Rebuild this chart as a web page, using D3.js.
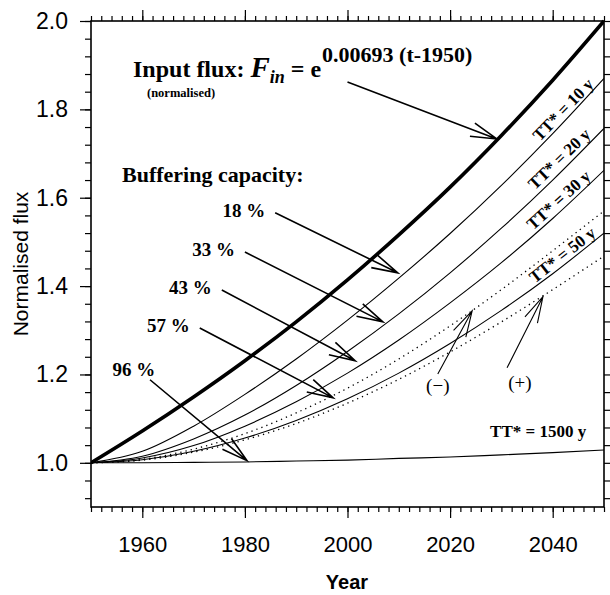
<!DOCTYPE html>
<html>
<head>
<meta charset="utf-8">
<script src="https://cdn.jsdelivr.net/npm/d3@7"></script>
<style>
  body { margin: 0; background: #fff; }
</style>
</head>
<body>
<div id="chart"></div>
<script>
// values, one per decade
const years = [1950, 1960, 1970, 1980, 1990, 2000, 2010, 2020, 2030, 2040, 2050]
const inputFlux = [1.000, 1.072, 1.149, 1.231, 1.319, 1.414, 1.516, 1.624, 1.741, 1.866, 2.000]
const tt10 = [1.000, 1.026, 1.083, 1.155, 1.235, 1.323, 1.418, 1.519, 1.628, 1.745, 1.870]
const tt20 = [1.000, 1.015, 1.054, 1.108, 1.175, 1.252, 1.337, 1.430, 1.531, 1.640, 1.757]
const tt30 = [1.000, 1.011, 1.039, 1.083, 1.138, 1.203, 1.278, 1.362, 1.453, 1.553, 1.662]
const tt50 = [1.000, 1.007, 1.026, 1.056, 1.096, 1.145, 1.203, 1.270, 1.345, 1.428, 1.520]
const tt50Minus = [1.000, 1.008, 1.031, 1.066, 1.113, 1.169, 1.235, 1.310, 1.392, 1.480, 1.570]
const tt50Plus = [1.000, 1.006, 1.024, 1.052, 1.089, 1.135, 1.189, 1.251, 1.319, 1.392, 1.468]
const tt1500 = [1.000, 1.000, 1.001, 1.002, 1.004, 1.006, 1.010, 1.013, 1.018, 1.023, 1.029]

const yTickLabels = [1.0, 1.2, 1.4, 1.6, 1.8, 2.0]
const xTickLabels = [1960, 1980, 2000, 2020, 2040]

let width = 610
let height = 595

let svg = d3.select("#chart")
  .append("svg")
  .attr("width", width)
  .attr("height", height)

let x = d3.scaleLinear()
  .domain([1950, 2050])
  .range([91, 604])

let y = d3.scaleLinear()
  .domain([0.9, 2.0])
  .range([507, 21])

let serif = "'Liberation Serif', 'Times New Roman', serif"
let sans = "'Liberation Sans', Arial, sans-serif"

// ---- axes ----
let yMinor = d3.range(23, 51).map(i => +(i * 0.04).toFixed(2))
let xMinor = d3.range(1950, 2051, 2)

let styleAxis = g => g
  .call(g => g.select(".domain").remove())
  .call(g => g.selectAll("line").attr("stroke", "#000").attr("stroke-width", 1.2))

svg.append("g")
  .attr("transform", `translate(${x(1950)},0)`)
  .call(d3.axisLeft(y).tickValues(yMinor).tickSize(6).tickFormat(""))
  .call(styleAxis)

svg.append("g")
  .attr("transform", `translate(${x(1950)},0)`)
  .call(d3.axisLeft(y).tickValues(yTickLabels).tickSize(11).tickPadding(12).tickFormat(d3.format(".1f")))
  .call(styleAxis)
  .call(g => g.selectAll("text").style("font", `23px ${sans}`).attr("fill", "#000"))

svg.append("g")
  .attr("transform", `translate(${x(2050)},0)`)
  .call(d3.axisRight(y).tickValues(yMinor).tickSize(6).tickFormat(""))
  .call(styleAxis)

svg.append("g")
  .attr("transform", `translate(0,${y(0.9)})`)
  .call(d3.axisBottom(x).tickValues(xMinor).tickSize(5).tickFormat(""))
  .call(styleAxis)

svg.append("g")
  .attr("transform", `translate(0,${y(0.9)})`)
  .call(d3.axisBottom(x).tickValues(xTickLabels).tickSize(11).tickPadding(18).tickFormat(d3.format("d")))
  .call(styleAxis)
  .call(g => g.selectAll("text").style("font", `22px ${sans}`).attr("fill", "#000"))

svg.append("g")
  .attr("transform", `translate(0,${y(2.0)})`)
  .call(d3.axisTop(x).tickValues(xMinor).tickSize(5).tickFormat(""))
  .call(styleAxis)

svg.append("g")
  .attr("transform", `translate(0,${y(2.0)})`)
  .call(d3.axisTop(x).tickValues(xTickLabels).tickSize(11).tickFormat(""))
  .call(styleAxis)

svg.append("rect")
  .attr("x", x(1950))
  .attr("y", y(2.0))
  .attr("width", x(2050) - x(1950))
  .attr("height", y(0.9) - y(2.0))
  .attr("fill", "none")
  .attr("stroke", "#000")
  .attr("stroke-width", 1.6)

svg.append("text")
  .attr("transform", `translate(28,${(y(0.9) + y(2.0)) / 2}) rotate(-90)`)
  .attr("text-anchor", "middle")
  .style("font", `21px ${sans}`)
  .text("Normalised flux")

svg.append("text")
  .attr("x", 347)
  .attr("y", 589)
  .attr("text-anchor", "middle")
  .style("font", `bold 20px ${sans}`)
  .text("Year")

// ---- curves ----
svg.append("clipPath").attr("id", "plot")
  .append("rect")
  .attr("x", x(1950)).attr("y", y(2.0) - 2)
  .attr("width", x(2050) - x(1950)).attr("height", y(0.9) - y(2.0) + 2)

let line = d3.line()
  .x((d, i) => x(years[i]))
  .y(d => y(d))
  .curve(d3.curveMonotoneX)

let series = [
  { values: tt1500, width: 1.1, dash: null },
  { values: tt50Plus, width: 1.3, dash: "1.3,4" },
  { values: tt50Minus, width: 1.3, dash: "1.3,4" },
  { values: tt50, width: 1.1, dash: null },
  { values: tt30, width: 1.1, dash: null },
  { values: tt20, width: 1.1, dash: null },
  { values: tt10, width: 1.1, dash: null },
  { values: inputFlux, width: 3.6, dash: null }
]

svg.append("g")
  .attr("clip-path", "url(#plot)")
  .selectAll("path")
  .data(series)
  .enter().append("path")
    .attr("d", d => line(d.values))
    .attr("fill", "none")
    .attr("stroke", "#000")
    .attr("stroke-width", d => d.width)
    .attr("stroke-dasharray", d => d.dash)

// ---- curve labels ----
let curveLabels = [
  { text: "TT* = 10 y", year: 2048.6, value: 1.850, angle: -46 },
  { text: "TT* = 20 y", year: 2048.0, value: 1.736, angle: -44 },
  { text: "TT* = 30 y", year: 2048.0, value: 1.640, angle: -42 },
  { text: "TT* = 50 y", year: 2049.0, value: 1.510, angle: -38 }
]

svg.append("g")
  .selectAll("text")
  .data(curveLabels)
  .enter().append("text")
    .attr("transform", d => `translate(${x(d.year)},${y(d.value)}) rotate(${d.angle})`)
    .attr("dy", -3)
    .attr("text-anchor", "end")
    .style("font", `bold 17px ${serif}`)
    .text(d => d.text)

svg.append("text")
  .attr("x", x(2027.8))
  .attr("y", y(1.059))
  .style("font", `bold 17px ${serif}`)
  .text("TT* = 1500 y")

// ---- annotation arrows ----
let arrows = [
  { from: [2000.0, 1.862], to: [2029.1, 1.733], width: 1.6 },
  { from: [1985.9, 1.566], to: [2009.8, 1.430], width: 1.6, label: "18 %" },
  { from: [1980.0, 1.477], to: [2006.9, 1.319], width: 1.6, label: "33 %" },
  { from: [1975.5, 1.391], to: [2001.5, 1.231], width: 1.6, label: "43 %" },
  { from: [1971.2, 1.305], to: [1997.2, 1.147], width: 1.6, label: "57 %" },
  { from: [1961.5, 1.188], to: [1980.4, 1.005], width: 1.6 },
  { from: [2017.6, 1.201], to: [2024.3, 1.344], width: 1.1 },
  { from: [2031.1, 1.215], to: [2038.1, 1.376], width: 1.1 }
]

let arrowG = svg.append("g")
  .attr("stroke", "#000")
  .attr("fill", "none")

arrows.forEach(function (a) {
  let x1 = x(a.from[0]), y1 = y(a.from[1])
  let x2 = x(a.to[0]), y2 = y(a.to[1])
  let ang = Math.atan2(y1 - y2, x1 - x2)
  let len = 27
  let spread = 15 * Math.PI / 180
  let path = d3.path()
  path.moveTo(x1, y1)
  path.lineTo(x2, y2)
  path.moveTo(x2 + len * Math.cos(ang + spread), y2 + len * Math.sin(ang + spread))
  path.lineTo(x2, y2)
  path.lineTo(x2 + len * Math.cos(ang - spread), y2 + len * Math.sin(ang - spread))
  arrowG.append("path")
    .attr("d", path.toString())
    .attr("stroke-width", a.width)
})

// percentage labels to the left of the arrow tails
svg.append("g")
  .selectAll("text")
  .data(arrows.filter(d => d.label))
  .enter().append("text")
    .attr("x", d => x(d.from[0]) - 10)
    .attr("y", d => y(d.from[1]) + 4)
    .attr("text-anchor", "end")
    .style("font", `bold 19px ${serif}`)
    .text(d => d.label)

svg.append("text")
  .attr("x", x(1962.5))
  .attr("y", y(1.196))
  .attr("text-anchor", "end")
  .style("font", `bold 19px ${serif}`)
  .text("96 %")

svg.append("text")
  .attr("x", x(2017.6))
  .attr("y", y(1.161))
  .attr("text-anchor", "middle")
  .style("font", `19px ${serif}`)
  .text("(\u2212)")

svg.append("text")
  .attr("x", x(2033.6))
  .attr("y", y(1.167))
  .attr("text-anchor", "middle")
  .style("font", `19px ${serif}`)
  .text("(+)")

svg.append("text")
  .attr("x", 122)
  .attr("y", 182)
  .style("font", `bold 22px ${serif}`)
  .text("Buffering capacity:")

// input flux title with formula
let title = svg.append("text")
  .attr("x", 133)
  .attr("y", 77)
  .style("font", `bold 24px ${serif}`)

title.append("tspan").text("Input flux: ")
title.append("tspan").style("font-style", "italic").style("font-size", "29px").text("F")
title.append("tspan").style("font-style", "italic").style("font-size", "18px").attr("dy", 6).text("in")
title.append("tspan").attr("dy", -6).text(" = e")
title.append("tspan").style("font-size", "22px").attr("dx", 1).attr("dy", -15).text("0.00693 (t-1950)")

svg.append("text")
  .attr("x", 147)
  .attr("y", 97)
  .style("font", `bold 12.5px ${serif}`)
  .text("(normalised)")

</script>
</body>
</html>
